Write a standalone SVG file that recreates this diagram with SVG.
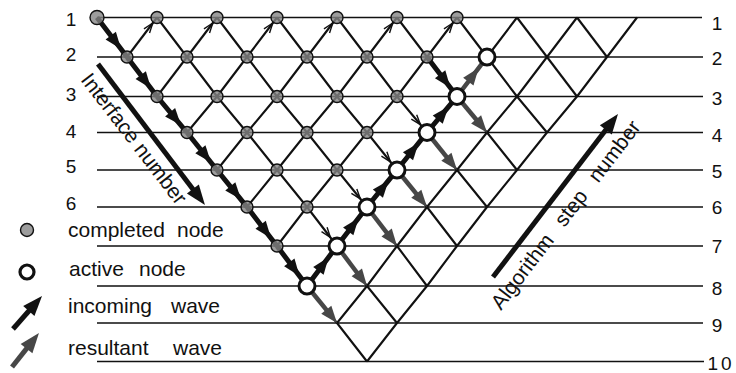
<svg xmlns="http://www.w3.org/2000/svg" width="736" height="373" viewBox="0 0 736 373">
<style>
text{font-family:"Liberation Sans",Arial,sans-serif;fill:#111}
.num{font-size:19px;text-anchor:middle}
.lab{font-size:21px}
.h{stroke:#111;stroke-width:1.6;fill:none}
.g{stroke:#111;stroke-width:2.1;fill:none;stroke-linejoin:round}
.done circle{fill:#858585;fill-opacity:.8;stroke:#111;stroke-width:1.4}
.act circle{fill:#fff;stroke:#111;stroke-width:3}
.inc{stroke:#111;stroke-width:5;fill:none;marker-mid:url(#ahB)}
.resm{stroke:#474747;stroke-width:4.5;fill:none;marker-mid:url(#ahGM)}
.rese{stroke:#474747;stroke-width:4.5;fill:none;marker-end:url(#ahGE)}
.big{stroke:#111;stroke-width:5;fill:none;marker-end:url(#ahK)}
.bigg{stroke:#474747;stroke-width:5;fill:none;marker-end:url(#ahKG)}
.tah{stroke:#111;stroke-width:1.4;fill:none}
</style>
<defs>
<marker id="ahB" markerUnits="userSpaceOnUse" orient="auto" overflow="visible" markerWidth="1" markerHeight="1"><path d="M0,0 L-17,-6.5 L-17,6.5 Z" fill="#111"/></marker>
<marker id="ahGM" markerUnits="userSpaceOnUse" orient="auto" overflow="visible" markerWidth="1" markerHeight="1"><path d="M0,0 L-17,-6.5 L-17,6.5 Z" fill="#474747"/></marker>
<marker id="ahGE" markerUnits="userSpaceOnUse" orient="auto" overflow="visible" markerWidth="1" markerHeight="1"><path d="M10,0 L-7,-6.5 L-7,6.5 Z" fill="#474747"/></marker>
<marker id="ahK" markerUnits="userSpaceOnUse" orient="auto" overflow="visible" markerWidth="1" markerHeight="1"><path d="M12,0 L-8,-7.5 L-8,7.5 Z" fill="#111"/></marker>
<marker id="ahKG" markerUnits="userSpaceOnUse" orient="auto" overflow="visible" markerWidth="1" markerHeight="1"><path d="M12,0 L-8,-7.5 L-8,7.5 Z" fill="#474747"/></marker>
<path id="tah" class="tah" d="M0,0 L-10,-3.5 M0,0 L-10,3.5"/>
</defs>

<g id="interfaces">
<path class="h" d="M97,17.5H702 M97,57H703 M97,96.5H703 M97,132.5H703 M97,170H703 M97,207H703 M97,246H703 M97,286H703 M97,323H703 M97,361.5H704"/>
</g>

<g id="labels">
<text class="num" x="71" y="26">1</text>
<text class="num" x="71" y="61">2</text>
<text class="num" x="71" y="101">3</text>
<text class="num" x="71" y="138">4</text>
<text class="num" x="71" y="173">5</text>
<text class="num" x="71" y="210">6</text>
<text class="num" x="717" y="30">1</text>
<text class="num" x="717" y="65">2</text>
<text class="num" x="717" y="105">3</text>
<text class="num" x="717" y="142">4</text>
<text class="num" x="717" y="178">5</text>
<text class="num" x="717" y="214">6</text>
<text class="num" x="717" y="253">7</text>
<text class="num" x="717" y="295">8</text>
<text class="num" x="717" y="332">9</text>
<text class="num" x="721" y="370" letter-spacing="3">10</text>
</g>

<g id="connectors">
<path class="g" d="M97,17.5 L127,57 L157,96.5 L187,132.5 L217,170 L247,207 L277,246 L307,286 L337,323 L367,361.5"/>
<path class="g" d="M157,17.5 L187,57 L217,96.5 L247,132.5 L277,170 L307,207 L337,246 L367,286 L397,323"/>
<path class="g" d="M217,17.5 L247,57 L277,96.5 L307,132.5 L337,170 L367,207 L397,246 L427,286"/>
<path class="g" d="M277,17.5 L307,57 L337,96.5 L367,132.5 L397,170 L427,207 L457,246"/>
<path class="g" d="M337,17.5 L367,57 L397,96.5 L427,132.5 L457,170 L487,207"/>
<path class="g" d="M397,17.5 L427,57 L457,96.5 L487,132.5 L517,170"/>
<path class="g" d="M457,17.5 L487,57 L517,96.5 L547,132.5"/>
<path class="g" d="M517,17.5 L547,57 L577,96.5"/>
<path class="g" d="M577,17.5 L607,57"/>
<path class="g" d="M157,17.5 L127,57"/>
<path class="g" d="M217,17.5 L187,57 L157,96.5"/>
<path class="g" d="M277,17.5 L247,57 L217,96.5 L187,132.5"/>
<path class="g" d="M337,17.5 L307,57 L277,96.5 L247,132.5 L217,170"/>
<path class="g" d="M397,17.5 L367,57 L337,96.5 L307,132.5 L277,170 L247,207"/>
<path class="g" d="M457,17.5 L427,57 L397,96.5 L367,132.5 L337,170 L307,207 L277,246"/>
<path class="g" d="M517,17.5 L487,57 L457,96.5 L427,132.5 L397,170 L367,207 L337,246 L307,286"/>
<path class="g" d="M577,17.5 L547,57 L517,96.5 L487,132.5 L457,170 L427,207 L397,246 L367,286 L337,323"/>
<path class="g" d="M637,17.5 L607,57 L577,96.5 L547,132.5 L517,170 L487,207 L457,246 L427,286 L397,323 L367,361.5"/>

<use href="#tah" transform="translate(152.8,23) rotate(-52.8)"/>
<use href="#tah" transform="translate(212.8,23) rotate(-52.8)"/>
<use href="#tah" transform="translate(272.8,23) rotate(-52.8)"/>
<use href="#tah" transform="translate(332.8,23) rotate(-52.8)"/>
<use href="#tah" transform="translate(392.8,23) rotate(-52.8)"/>
<use href="#tah" transform="translate(452.8,23) rotate(-52.8)"/>
<use href="#tah" transform="translate(420.4,124.6) rotate(50.2)"/>
<use href="#tah" transform="translate(390.4,161.8) rotate(51.3)"/>
<use href="#tah" transform="translate(360.4,198.9) rotate(51)"/>
<use href="#tah" transform="translate(330.4,237.4) rotate(52.4)"/>

<path class="inc" d="M97,17.5 L121,49.1 L127,57"/>
<path class="inc" d="M127,57 L151,88.6 L157,96.5"/>
<path class="inc" d="M157,96.5 L181,125.3 L187,132.5"/>
<path class="inc" d="M187,132.5 L211,162.5 L217,170"/>
<path class="inc" d="M217,170 L241,199.6 L247,207"/>
<path class="inc" d="M247,207 L271,238.2 L277,246"/>
<path class="inc" d="M277,246 L299.5,276 L307,286"/>
<path class="inc" d="M427,57 L450.4,87.8 L457,96.5"/>
<path class="inc" d="M307,286 L328.6,257.2 L337,246"/>
<path class="inc" d="M337,246 L358.6,217.9 L367,207"/>
<path class="inc" d="M367,207 L388.6,180.4 L397,170"/>
<path class="inc" d="M397,170 L418.6,143 L427,132.5"/>
<path class="inc" d="M427,132.5 L448.6,106.6 L457,96.5"/>

<path class="resm" d="M457,96.5 L478.6,68.1 L487,57"/>
<path class="rese" d="M457,96.5 L480.6,124.8"/>
<path class="rese" d="M427,132.5 L450.75,162.2"/>
<path class="rese" d="M397,170 L420.7,199.2"/>
<path class="rese" d="M367,207 L390.9,238.1"/>
<path class="rese" d="M337,246 L361,278"/>
<path class="rese" d="M307,286 L330.7,315.2"/>

<path class="big" d="M98,64 L197.7,195.4"/>
<path class="big" d="M493,277 L610.7,123.5"/>
</g>

<g class="done">
<g id="n0-0"><circle cx="97" cy="17.5" r="7"/></g>
<g id="n0-1"><circle cx="157" cy="17.5" r="6"/></g>
<g id="n0-2"><circle cx="217" cy="17.5" r="6"/></g>
<g id="n0-3"><circle cx="277" cy="17.5" r="6"/></g>
<g id="n0-4"><circle cx="337" cy="17.5" r="6"/></g>
<g id="n0-5"><circle cx="397" cy="17.5" r="6"/></g>
<g id="n0-6"><circle cx="457" cy="17.5" r="6"/></g>
<g id="n1-0"><circle cx="127" cy="57" r="6"/></g>
<g id="n1-1"><circle cx="187" cy="57" r="6"/></g>
<g id="n1-2"><circle cx="247" cy="57" r="6"/></g>
<g id="n1-3"><circle cx="307" cy="57" r="6"/></g>
<g id="n1-4"><circle cx="367" cy="57" r="6"/></g>
<g id="n1-5"><circle cx="427" cy="57" r="6"/></g>
<g id="n2-0"><circle cx="157" cy="96.5" r="6"/></g>
<g id="n2-1"><circle cx="217" cy="96.5" r="6"/></g>
<g id="n2-2"><circle cx="277" cy="96.5" r="6"/></g>
<g id="n2-3"><circle cx="337" cy="96.5" r="6"/></g>
<g id="n2-4"><circle cx="397" cy="96.5" r="6"/></g>
<g id="n3-0"><circle cx="187" cy="132.5" r="6"/></g>
<g id="n3-1"><circle cx="247" cy="132.5" r="6"/></g>
<g id="n3-2"><circle cx="307" cy="132.5" r="6"/></g>
<g id="n3-3"><circle cx="367" cy="132.5" r="6"/></g>
<g id="n4-0"><circle cx="217" cy="170" r="6"/></g>
<g id="n4-1"><circle cx="277" cy="170" r="6"/></g>
<g id="n4-2"><circle cx="337" cy="170" r="6"/></g>
<g id="n5-0"><circle cx="247" cy="207" r="6"/></g>
<g id="n5-1"><circle cx="307" cy="207" r="6"/></g>
<g id="n6-0"><circle cx="277" cy="246" r="6"/></g>
</g>

<g class="act">
<g id="a1"><circle cx="487" cy="57" r="8"/></g>
<g id="a2"><circle cx="457" cy="96.5" r="8"/></g>
<g id="a3"><circle cx="427" cy="132.5" r="8"/></g>
<g id="a4"><circle cx="397" cy="170" r="8"/></g>
<g id="a5"><circle cx="367" cy="207" r="8"/></g>
<g id="a6"><circle cx="337" cy="246" r="8"/></g>
<g id="a7"><circle cx="307" cy="286" r="8"/></g>
</g>

<g id="axis-labels">
<text class="lab" transform="translate(80,80) rotate(52.5)">Interface number</text>
<text class="lab" transform="translate(501,311) rotate(-52.6)">Algorithm<tspan dx="10"> step</tspan><tspan dx="10"> number</tspan></text>
</g>

<g id="legend">
<g class="done"><circle cx="27" cy="230" r="6.5"/></g>
<circle cx="27" cy="272" r="7" fill="#fff" stroke="#111" stroke-width="3.2"/>
<path class="big" d="M13,329 L34.1,305"/>
<path class="bigg" d="M12,367 L31.5,342.4"/>
<text class="lab" x="68" y="237">completed <tspan x="177">node</tspan></text>
<text class="lab" x="69" y="276">active <tspan x="139">node</tspan></text>
<text class="lab" x="68" y="313">incoming <tspan x="171">wave</tspan></text>
<text class="lab" x="68" y="355">resultant <tspan x="173">wave</tspan></text>
</g>
</svg>
